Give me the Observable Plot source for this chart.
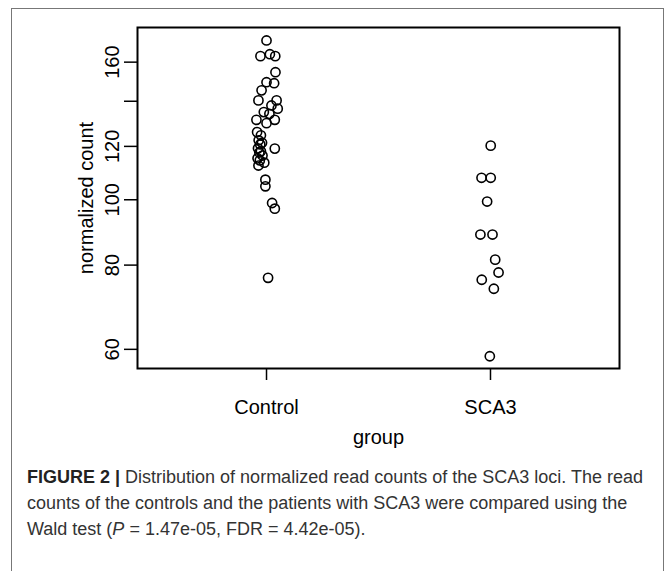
<!DOCTYPE html>
<html>
<head>
<meta charset="utf-8">
<script src="https://cdn.jsdelivr.net/npm/d3@7"></script>
<script src="https://cdn.jsdelivr.net/npm/@observablehq/plot@0.6"></script>
<style>
  html, body { margin: 0; padding: 0; background: #fff; }
  #wrap { position: relative; width: 671px; height: 571px; overflow: hidden; }
  #border { position: absolute; left: 11px; top: 8px; width: 653px; height: 600px;
            border: 1.5px solid #777; box-sizing: border-box; }
  #chart { position: absolute; left: 0; top: 0; }
  #caption { position: absolute; left: 27px; top: 464px; font-family: "Liberation Sans", Arial, sans-serif;
             font-size: 18px; line-height: 26px; color: #333; white-space: nowrap; }
  #caption b { font-weight: bold; color: #222; }
</style>
</head>
<body>
<div id="wrap">
  <div id="border"></div>
  <div id="chart"></div>
  <div id="caption"><b>FIGURE 2 |</b> Distribution of normalized read counts of the SCA3 loci. The read<br>counts of the controls and the patients with SCA3 were compared using the<br>Wald test (<i>P</i> = 1.47e-05, FDR = 4.42e-05).</div>
</div>
<script>
const groups = ["Control", "SCA3"];
const controlValues = [172.3, 163.3, 164.4, 163.3, 154.6, 149.4, 148.9, 145.3, 140.4, 140.4, 138.0, 136.5, 134.9, 134.1, 131.4, 131.4, 129.9, 126.0, 124.6, 122.5, 121.5, 120.8, 119.2, 119.1, 118.0, 117.5, 116.3, 115.2, 114.4, 113.5, 112.4, 107.1, 104.7, 98.9, 97.0, 76.6];
const controlJitter = [0.00, -0.027, 0.015, 0.039, 0.040, 0.000, 0.034, -0.022, -0.036, 0.045, 0.022, 0.050, -0.012, 0.013, -0.045, 0.037, 0.000, -0.042, -0.025, -0.035, -0.020, -0.028, -0.038, 0.037, -0.025, -0.032, -0.018, -0.040, -0.030, -0.010, -0.036, -0.005, -0.005, 0.025, 0.037, 0.007];
const scaValues = [120.3, 107.8, 107.8, 99.4, 88.8, 88.8, 81.5, 78.0, 76.1, 73.8, 58.6];
const scaJitter = [0.001, -0.040, 0.001, -0.015, -0.045, 0.009, 0.021, 0.036, -0.039, 0.015, -0.003];
const yTicks = [60, 80, 100, 120, 140, 160];
const yTickLabels = [60, 80, 100, 120, 160];
const yLabel = "normalized count";
const xLabel = "group";

const points = [
  ...controlValues.map((v, i) => ({group: groups[0], pos: 1 + controlJitter[i], value: v})),
  ...scaValues.map((v, i) => ({group: groups[1], pos: 2 + scaJitter[i], value: v}))
];

const font = "'Liberation Sans', Arial, Helvetica, sans-serif";
const fs = 20;

const chart = Plot.plot({
  width: 671,
  height: 450,
  marginLeft: 137,
  marginRight: 52,
  marginTop: 27,
  marginBottom: 82,
  style: {fontFamily: font, background: "transparent", color: "black"},
  x: {domain: [0.424, 2.576], axis: null},
  y: {type: "log", domain: [56.2, 180.1], axis: null},
  marks: [
    Plot.axisY({ticks: yTicks, tickSize: 13, tickFormat: () => "", label: null, strokeWidth: 1.5}),
    Plot.axisX({ticks: [1, 2], tickSize: 12, tickFormat: () => "", label: null, strokeWidth: 1.5}),
    Plot.frame({stroke: "black", strokeWidth: 2}),
    Plot.text(yTickLabels, {y: d => d, text: d => String(d), frameAnchor: "left", dx: -25, rotate: -90, textAnchor: "middle", lineAnchor: "middle", fontSize: fs, fill: "black"}),
    Plot.text([yLabel], {frameAnchor: "left", dx: -51, rotate: -90, textAnchor: "middle", lineAnchor: "middle", fontSize: fs, fill: "black"}),
    Plot.text(groups, {x: (d, i) => i + 1, text: d => d, frameAnchor: "bottom", dy: 39, textAnchor: "middle", lineAnchor: "middle", fontSize: fs, fill: "black"}),
    Plot.text([xLabel], {frameAnchor: "bottom", dy: 69, textAnchor: "middle", lineAnchor: "middle", fontSize: fs, fill: "black"}),
    Plot.dot(points, {x: "pos", y: "value", r: 4.6, stroke: "black", strokeWidth: 1.6, fill: "none"})
  ]
});
document.getElementById("chart").appendChild(chart);
</script>
</body>
</html>
